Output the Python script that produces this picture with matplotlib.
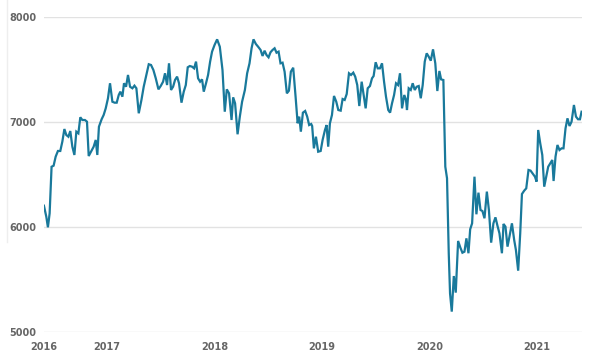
import matplotlib
matplotlib.use("Agg")
from matplotlib import pyplot as plt
from matplotlib.lines import Line2D

# weekly index values, x as decimal year
years = [
    2016.417, 2016.439, 2016.454, 2016.470, 2016.488, 2016.507, 2016.526, 2016.547, 2016.569, 2016.588,
    2016.607, 2016.625, 2016.644, 2016.662, 2016.681, 2016.700, 2016.718, 2016.737, 2016.755, 2016.774,
    2016.798, 2016.817, 2016.833, 2016.854, 2016.879, 2016.898, 2016.913, 2016.928, 2016.953, 2016.972,
    2016.991, 2017.012, 2017.031, 2017.053, 2017.074, 2017.093, 2017.112, 2017.127, 2017.146, 2017.161,
    2017.180, 2017.198, 2017.217, 2017.239, 2017.258, 2017.276, 2017.298, 2017.323, 2017.344, 2017.369,
    2017.391, 2017.412, 2017.434, 2017.456, 2017.481, 2017.502, 2017.524, 2017.542, 2017.561, 2017.579,
    2017.598, 2017.617, 2017.635, 2017.654, 2017.672, 2017.695, 2017.716, 2017.735, 2017.753, 2017.772,
    2017.793, 2017.812, 2017.830, 2017.849, 2017.868, 2017.886, 2017.902, 2017.923, 2017.942, 2017.961,
    2017.979, 2018.002, 2018.026, 2018.051, 2018.076, 2018.097, 2018.116, 2018.137, 2018.160, 2018.175,
    2018.193, 2018.216, 2018.237, 2018.258, 2018.284, 2018.305, 2018.327, 2018.346, 2018.364, 2018.386,
    2018.407, 2018.430, 2018.448, 2018.467, 2018.485, 2018.504, 2018.522, 2018.541, 2018.560, 2018.578,
    2018.597, 2018.615, 2018.634, 2018.653, 2018.674, 2018.693, 2018.711, 2018.733, 2018.755, 2018.774,
    2018.789, 2018.804, 2018.823, 2018.844, 2018.863, 2018.881, 2018.900, 2018.909, 2018.925, 2018.944,
    2018.965, 2018.988, 2019.006, 2019.028, 2019.043, 2019.058, 2019.074, 2019.093, 2019.112, 2019.133,
    2019.152, 2019.174, 2019.192, 2019.211, 2019.230, 2019.251, 2019.270, 2019.291, 2019.309, 2019.328,
    2019.347, 2019.369, 2019.387, 2019.406, 2019.425, 2019.446, 2019.465, 2019.480, 2019.499, 2019.518,
    2019.539, 2019.558, 2019.577, 2019.595, 2019.616, 2019.633, 2019.651, 2019.670, 2019.688, 2019.707,
    2019.725, 2019.744, 2019.765, 2019.781, 2019.790, 2019.806, 2019.825, 2019.843, 2019.862, 2019.880,
    2019.899, 2019.918, 2019.936, 2019.955, 2019.973, 2019.992, 2020.011, 2020.032, 2020.053, 2020.072,
    2020.091, 2020.107, 2020.128, 2020.146, 2020.162, 2020.178, 2020.190, 2020.206, 2020.225, 2020.243,
    2020.265, 2020.286, 2020.305, 2020.324, 2020.342, 2020.361, 2020.377, 2020.395, 2020.417, 2020.435,
    2020.454, 2020.473, 2020.491, 2020.510, 2020.532, 2020.551, 2020.572, 2020.593, 2020.612, 2020.631,
    2020.649, 2020.672, 2020.687, 2020.705, 2020.724, 2020.742, 2020.765, 2020.786, 2020.802, 2020.823,
    2020.842, 2020.858, 2020.879, 2020.898, 2020.919, 2020.938, 2020.956, 2020.979, 2020.994, 2021.009,
    2021.028, 2021.047, 2021.065, 2021.084, 2021.102, 2021.121, 2021.140, 2021.152, 2021.170, 2021.188,
    2021.207, 2021.226, 2021.244, 2021.263, 2021.281, 2021.300, 2021.319, 2021.341, 2021.360, 2021.379,
    2021.397, 2021.412,
]
values = [
    6203, 6098, 5997, 6130, 6574, 6584, 6670, 6724, 6724, 6813,
    6933, 6876, 6860, 6914, 6765, 6686, 6908, 6892, 7045, 7019,
    7019, 7003, 6676, 6717, 6765, 6829, 6686, 6955, 7026, 7067,
    7130, 7226, 7369, 7193, 7184, 7184, 7257, 7289, 7241, 7369,
    7336, 7448, 7336, 7321, 7346, 7321, 7083, 7210, 7336, 7448,
    7550, 7543, 7495, 7416, 7311, 7343, 7384, 7464, 7352, 7559,
    7305, 7336, 7400, 7432, 7369, 7184, 7289, 7352, 7521, 7533,
    7527, 7511, 7575, 7416, 7384, 7406, 7289, 7369, 7448, 7575,
    7670, 7733, 7787, 7717, 7495, 7098, 7311, 7273, 7019, 7235,
    7178, 6883, 7051, 7193, 7305, 7464, 7559, 7702, 7787, 7743,
    7717, 7686, 7629, 7679, 7638, 7616, 7664, 7686, 7702, 7660,
    7670, 7559, 7565, 7479, 7273, 7298, 7479, 7517, 7241, 6988,
    7051, 6908, 7089, 7105, 7051, 6971, 6981, 6962, 6749, 6860,
    6717, 6724, 6829, 6924, 6971, 6765, 6988, 7067, 7248, 7193,
    7114, 7108, 7219, 7210, 7267, 7464, 7448, 7470, 7432, 7352,
    7152, 7384, 7257, 7130, 7321, 7343, 7416, 7438, 7569, 7511,
    7511, 7559, 7384, 7241, 7114, 7089, 7178, 7257, 7369, 7352,
    7464, 7130, 7257, 7210, 7114, 7321, 7305, 7369, 7305, 7336,
    7343, 7226, 7352, 7575, 7654, 7622, 7584, 7692, 7559, 7295,
    7486, 7406, 7400, 6574, 6464, 5750, 5368, 5194, 5533, 5375,
    5867, 5803, 5755, 5765, 5892, 5750, 5978, 6035, 6479, 6121,
    6327, 6162, 6152, 6083, 6337, 6162, 5851, 6035, 6092, 6010,
    5940, 5750, 6029, 6003, 5813, 5908, 6035, 5876, 5781, 5584,
    5940, 6314, 6346, 6368, 6543, 6537, 6511, 6479, 6432, 6924,
    6797, 6686, 6384, 6479, 6574, 6606, 6638, 6438, 6670, 6781,
    6733, 6749, 6749, 6940, 7035, 6962, 7003, 7162, 7051, 7026,
    7026, 7098,
]

x_ticks = [years[0], 2017, 2018, 2019, 2020, 2021]
x_labels = ["2016", "2017", "2018", "2019", "2020", "2021"]
y_ticks = [5000, 6000, 7000, 8000]

LINE_COLOR = "#19799b"
TEXT_COLOR = "#666666"
GRID_COLOR = "#e2e2e2"

fig = plt.figure(figsize=(6.02, 3.6), dpi=100)
ax = fig.add_axes([43.5 / 602, 1 - 332 / 360, (582 - 43.5) / 602, (332 - 17) / 360])

ax.plot(years, values, color=LINE_COLOR, linewidth=1.6, solid_joinstyle="miter", zorder=3)

ax.set_xlim(years[0] - 0.004, years[-1] + 0.004)
ax.set_ylim(5000, 8000)
ax.set_yticks(y_ticks)
ax.set_yticklabels([str(v) for v in y_ticks])
ax.set_xticks(x_ticks)
ax.set_xticklabels(x_labels)

ax.yaxis.grid(True, color=GRID_COLOR, linewidth=1.0)
ax.xaxis.grid(False)
ax.set_axisbelow(True)
for s in ax.spines.values():
    s.set_visible(False)
ax.tick_params(axis="both", length=0, labelsize=7, labelcolor=TEXT_COLOR)
ax.tick_params(axis="y", pad=5)
ax.tick_params(axis="x", pad=7)
for lbl in ax.get_xticklabels() + ax.get_yticklabels():
    lbl.set_fontweight("semibold")

# faint card border on the left
fig.add_artist(Line2D([7 / 602, 7 / 602], [1.0, 1 - 242 / 360], color="#eeeeee", linewidth=1.0))

plt.savefig("out.png", dpi=100)
